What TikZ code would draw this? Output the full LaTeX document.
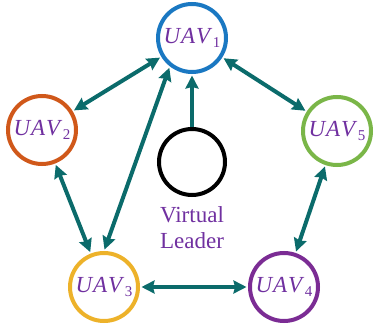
\documentclass[tikz,border=0pt]{standalone}
\usepackage{fontspec}
\setmainfont{Liberation Serif}
\newfontfamily\serfont{Liberation Serif}
\usetikzlibrary{arrows.meta}
\definecolor{teal1}{HTML}{0B6B6B}
\definecolor{purp}{HTML}{7030A0}
\definecolor{c1}{HTML}{1A78C2}
\definecolor{c2}{HTML}{D0581A}
\definecolor{c3}{HTML}{EDB22A}
\definecolor{c4}{HTML}{7B2C94}
\definecolor{c5}{HTML}{7AB648}
\newcommand{\uavlab}[1]{\textit{U\kern1pt A\kern1pt V}\kern0.5pt\raisebox{-4.5pt}{\fontsize{15}{15}\selectfont #1}}
\begin{document}
\begin{tikzpicture}[x=1pt,y=-1pt,
  uav/.style={circle,draw=#1,line width=4pt,minimum size=68pt,inner sep=0pt,text=purp,font=\serfont\fontsize{23}{24}\selectfont},
  link/.style={teal1,line width=4pt,shorten <=1.5pt,shorten >=1.5pt,{Stealth[length=13pt,width=13pt,inset=1.5pt]}-{Stealth[length=13pt,width=13pt,inset=1.5pt]}},
  one/.style={teal1,line width=4pt,shorten >=1.5pt,-{Stealth[length=13pt,width=13pt,inset=1.5pt]}}]
\useasboundingbox (0,0) rectangle (375,329);
\node[uav=c1] (u1) at (192,38) {\uavlab{1}};
\node[uav=c2] (u2) at (42,130) {\uavlab{2}};
\node[uav=c5] (u5) at (337,131) {\uavlab{5}};
\node[uav=c3] (u3) at (104,287) {\uavlab{3}};
\node[uav=c4] (u4) at (284,287) {\uavlab{4}};
\node[circle,draw=black,line width=4pt,minimum size=66pt,inner sep=0pt] (vl) at (192,162) {};
\node[text=purp,font=\serfont\fontsize{23}{26}\selectfont,align=center,anchor=north,inner sep=0pt] (vlt) at (192,206) {Virtual\\Leader};
\draw[link] (u1) -- (u2);
\draw[link] (u1) -- (u5);
\draw[link] (u1.232) -- (u3.north);
\draw[link] (u2) -- (u3);
\draw[link] (u5) -- (u4);
\draw[link] (u3) -- (u4);
\draw[one] (vl) -- (vl.center |- u1.south);
\end{tikzpicture}
\end{document}
